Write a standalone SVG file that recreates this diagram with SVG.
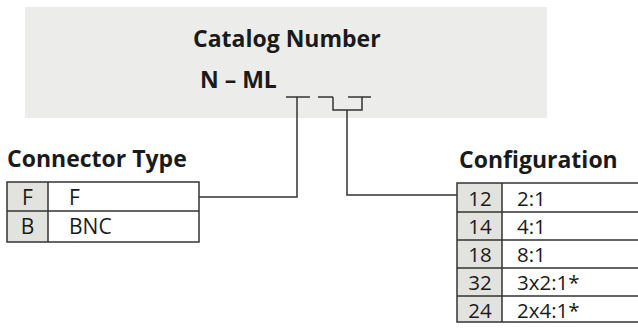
<svg xmlns="http://www.w3.org/2000/svg" width="638" height="331" viewBox="0 0 638 331">
<style>
.bg{fill:#ececea}
.t{font-family:"Open Sans","Noto Sans",sans-serif;fill:#1a1a1a}
.b{font-weight:bold;font-size:23px}
.r{font-size:21px}
.r2{font-size:20.5px}
.c{text-anchor:middle}
.ln{fill:none;stroke:#333;stroke-width:1.5}
.cell{fill:#e2e2df}
</style>
<rect class="bg" x="25" y="7" width="522" height="111"/>
<g id="catalog">
<text class="t b" x="193" y="47">Catalog Number</text>
<text class="t b" x="200" y="88">N – ML</text>
</g>
<g id="connectors">
<path class="ln" d="M286,97 H310 M297,97 V197 H199"/>
<path class="ln" d="M318,97 H333 M348,97 H371 M333,97 V110 H362 V97 M347,110 V195 H457"/>
</g>
<g id="connector-type">
<text class="t b" x="7" y="167">Connector Type</text>
<rect class="cell" x="7" y="182" width="41" height="60"/>
<rect class="ln" x="7" y="182" width="192" height="60"/>
<path class="ln" d="M48,182 V242 M7,211 H199"/>
<text class="t r c" x="27.5" y="205">F</text>
<text class="t r" x="69" y="205">F</text>
<text class="t r c" x="27.5" y="234">B</text>
<text class="t r" x="69" y="234">BNC</text>
</g>
<g id="configuration">
<text class="t b" x="459" y="168">Configuration</text>
<rect class="cell" x="457" y="183" width="45" height="139"/>
<rect class="ln" x="457" y="183" width="190" height="139"/>
<path class="ln" d="M502,183 V322 M457,212 H638 M457,240 H638 M457,268 H638 M457,296 H638"/>
<text class="t r2 c" x="480" y="206">12</text>
<text class="t r2" x="517" y="206">2:1</text>
<text class="t r2 c" x="480" y="234">14</text>
<text class="t r2" x="517" y="234">4:1</text>
<text class="t r2 c" x="480" y="262">18</text>
<text class="t r2" x="517" y="262">8:1</text>
<text class="t r2 c" x="480" y="290">32</text>
<text class="t r2" x="517" y="290">3x2:1*</text>
<text class="t r2 c" x="480" y="318">24</text>
<text class="t r2" x="517" y="318">2x4:1*</text>
</g>
</svg>
